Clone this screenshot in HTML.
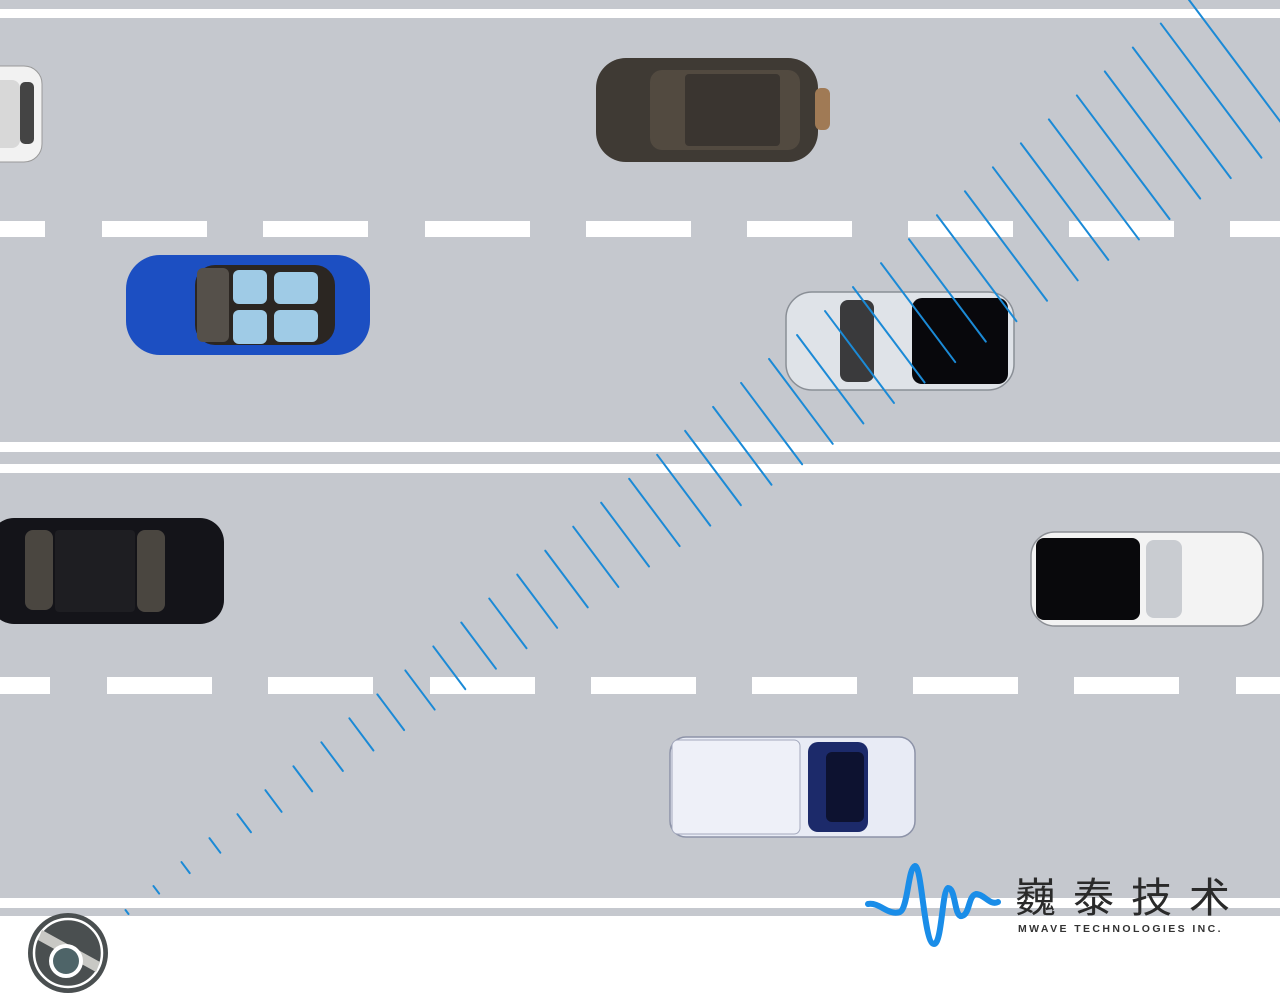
<!DOCTYPE html>
<html><head><meta charset="utf-8"><style>
html,body{margin:0;padding:0;width:1280px;height:1002px;overflow:hidden;background:#fff}
svg{display:block}
</style></head><body>
<svg id="s" width="1280" height="1002" viewBox="0 0 1280 1002" xmlns="http://www.w3.org/2000/svg">
<rect x="0" y="0" width="1280" height="1002" fill="#ffffff"/>
<rect x="0" y="0" width="1280" height="9" fill="#c5c8ce"/>
<rect x="0" y="18" width="1280" height="424" fill="#c5c8ce"/>
<rect x="0" y="452" width="1280" height="12" fill="#c5c8ce"/>
<rect x="0" y="473" width="1280" height="425" fill="#c5c8ce"/>
<rect x="0" y="908" width="1280" height="8" fill="#c5c8ce"/>
<g fill="#ffffff">
<rect x="0" y="221" width="45" height="16"/><rect x="102" y="221" width="105" height="16"/><rect x="263" y="221" width="105" height="16"/><rect x="425" y="221" width="105" height="16"/><rect x="586" y="221" width="105" height="16"/><rect x="747" y="221" width="105" height="16"/><rect x="908" y="221" width="105" height="16"/><rect x="1069" y="221" width="105" height="16"/><rect x="1230" y="221" width="50" height="16"/>
<rect x="0" y="677" width="50" height="17"/><rect x="107" y="677" width="105" height="17"/><rect x="268" y="677" width="105" height="17"/><rect x="430" y="677" width="105" height="17"/><rect x="591" y="677" width="105" height="17"/><rect x="752" y="677" width="105" height="17"/><rect x="913" y="677" width="105" height="17"/><rect x="1074" y="677" width="105" height="17"/><rect x="1236" y="677" width="44" height="17"/>
</g>
<rect x="-20" y="66" width="62" height="96" rx="18" fill="#f2f2f2" stroke="#999" stroke-width="1"/>
<rect x="-20" y="80" width="40" height="68" rx="8" fill="#d8d8d8"/>
<rect x="20" y="82" width="14" height="62" rx="5" fill="#444"/>
<rect x="596" y="58" width="222" height="104" rx="30" fill="#3f3a34"/>
<rect x="815" y="88" width="15" height="42" rx="6" fill="#a07a55"/>
<rect x="650" y="70" width="150" height="80" rx="12" fill="#524a40"/>
<rect x="685" y="74" width="95" height="72" rx="4" fill="#3a3530"/>
<rect x="126" y="255" width="244" height="100" rx="34" fill="#1c4fc2"/>
<rect x="195" y="265" width="140" height="80" rx="20" fill="#2b2622"/>
<rect x="197" y="268" width="32" height="74" rx="6" fill="#55504a"/>
<rect x="233" y="270" width="34" height="34" rx="6" fill="#9fcbe6"/><rect x="233" y="310" width="34" height="34" rx="6" fill="#9fcbe6"/>
<rect x="274" y="272" width="44" height="32" rx="6" fill="#9fcbe6"/><rect x="274" y="310" width="44" height="32" rx="6" fill="#9fcbe6"/>
<rect x="786" y="292" width="228" height="98" rx="26" fill="#dfe3e8" stroke="#8a8f96" stroke-width="1.5"/>
<rect x="840" y="300" width="34" height="82" rx="8" fill="#3a3a3c"/>
<rect x="912" y="298" width="96" height="86" rx="10" fill="#08080c"/>
<rect x="-10" y="518" width="234" height="106" rx="24" fill="#141419"/>
<rect x="25" y="530" width="28" height="80" rx="8" fill="#4a4640"/>
<rect x="55" y="530" width="80" height="82" rx="4" fill="#1e1e22"/>
<rect x="137" y="530" width="28" height="82" rx="8" fill="#4a4640"/>
<rect x="1031" y="532" width="232" height="94" rx="24" fill="#f3f3f3" stroke="#8d9096" stroke-width="1.5"/>
<rect x="1036" y="538" width="104" height="82" rx="8" fill="#09090c"/>
<rect x="1146" y="540" width="36" height="78" rx="8" fill="#c9ccd1"/>
<rect x="670" y="737" width="245" height="100" rx="16" fill="#e8ebf5" stroke="#8d93a8" stroke-width="1.5"/>
<rect x="672" y="740" width="128" height="94" rx="6" fill="#eef0f8" stroke="#a4a9bd" stroke-width="1"/>
<rect x="808" y="742" width="60" height="90" rx="10" fill="#1c2a6a"/>
<rect x="826" y="752" width="38" height="70" rx="6" fill="#0d1230"/>
<g id="waves" stroke="#1b8ad6" stroke-width="2" stroke-linecap="round"></g>
<circle cx="68" cy="953" r="40" fill="#4a4f50"/>
<circle cx="68" cy="953" r="34" fill="none" stroke="#fff" stroke-width="2.5"/>
<path d="M42 930 L100 962 L96 972 L38 940 Z" fill="#c8c8c4"/>
<circle cx="66" cy="961" r="17" fill="#fff"/>
<circle cx="66" cy="961" r="13" fill="#4e6468"/>
<path d="M868 904 C880 902 888 916 900 912 C908 908 908 868 915 866 C922 866 924 944 934 944 C942 944 942 890 948 888 C956 888 954 918 962 916 C970 914 968 896 976 894 C984 894 990 906 998 902" fill="none" stroke="#1a8de8" stroke-width="6" stroke-linecap="round"/>
<text x="1015" y="912" font-family="'Liberation Sans','Noto Sans CJK SC',sans-serif" font-size="41" fill="#2a2a2a" letter-spacing="17">巍泰技术</text>
<text x="1018" y="932" font-family="'Liberation Sans',sans-serif" font-size="10.5" font-weight="bold" fill="#333" letter-spacing="2.4">MWAVE TECHNOLOGIES INC.</text>
</svg>
<script>
var g=document.getElementById('waves'),h='';
for(var i=0;i<39;i++){var x=127+29.3*i,y=912-22.2*i,L=5+(x-127)*0.15,ux=0.6,uy=0.8;
h+='<line x1="'+(x-ux*L/2)+'" y1="'+(y-uy*L/2)+'" x2="'+(x+ux*L/2)+'" y2="'+(y+uy*L/2)+'"/>';}
g.innerHTML=h;
</script>
</body></html>
